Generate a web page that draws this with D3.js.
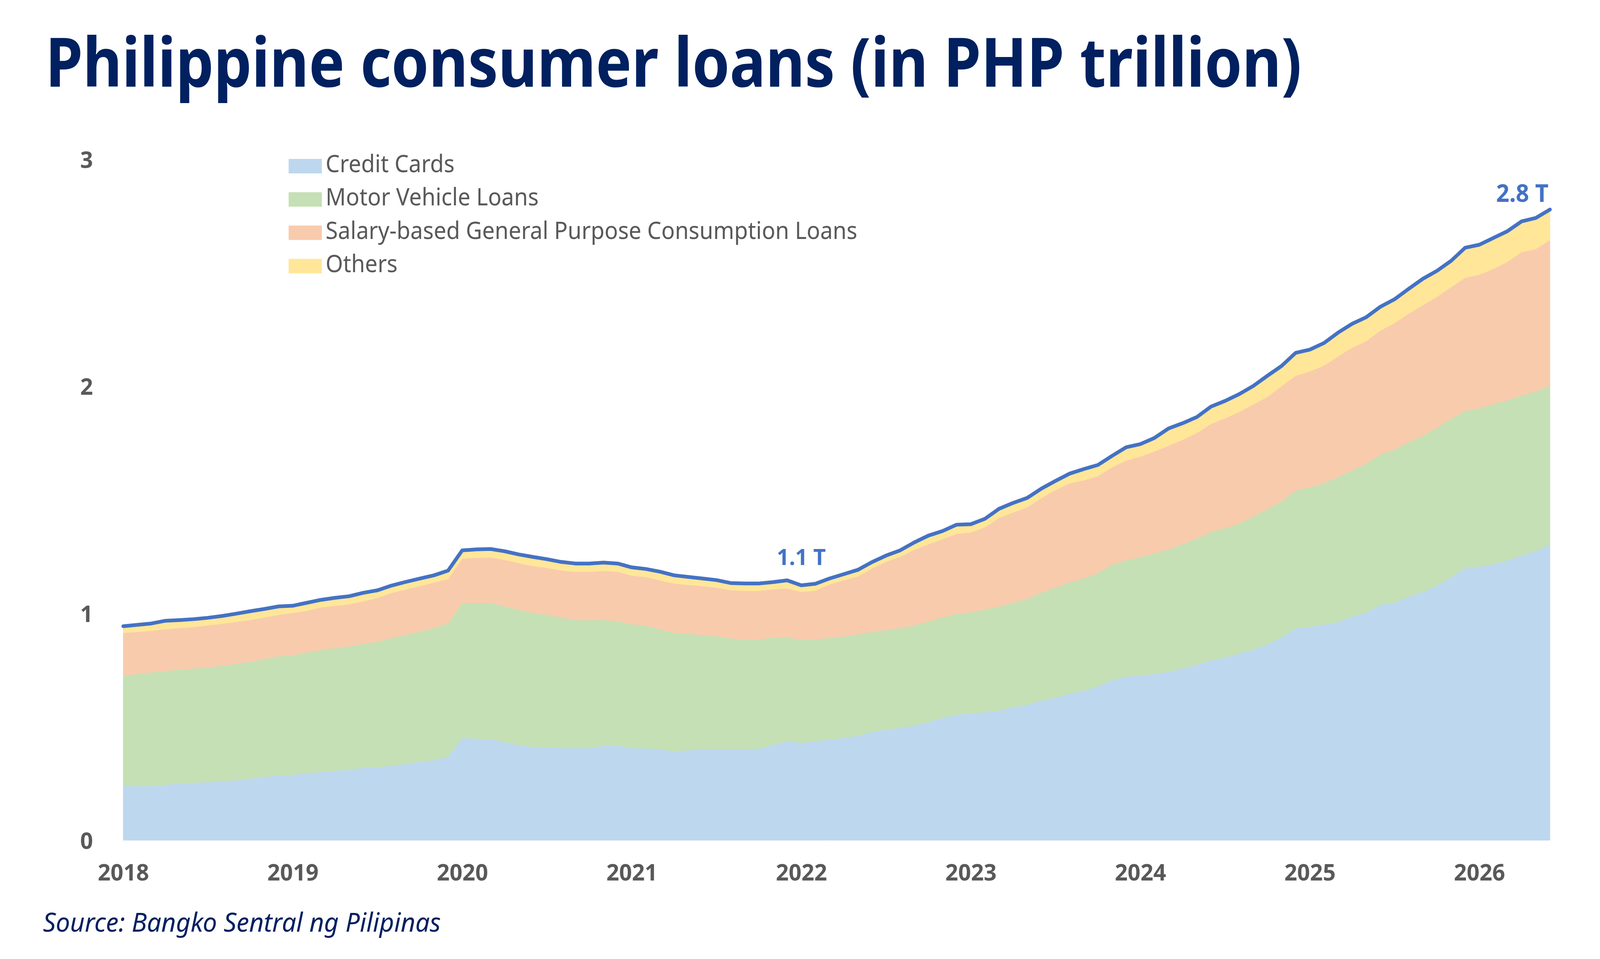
<!DOCTYPE html>
<html>
<head>
<meta charset="utf-8">
<script src="https://cdn.jsdelivr.net/npm/d3@7/dist/d3.min.js"></script>
<style>
  html, body { margin: 0; padding: 0; background: #ffffff; overflow: hidden; }
  svg { display: block; width: 100vw; height: 100vh; }
</style>
</head>
<body>
<svg id="chart" viewBox="0 0 4285 2456" preserveAspectRatio="none"></svg>
<script>
// ---------- DATA (PHP trillion, monthly Jan 2018 – Jun 2026) ----------
const startYear = 2018;
const startMonth = 0; // January
const monthCount = 102;
const seriesNames = ["Credit Cards", "Motor Vehicle Loans", "Salary-based General Purpose Consumption Loans", "Others"];
const yearLabels = ["2018", "2019", "2020", "2021", "2022", "2023", "2024", "2025", "2026"];
const yTickValues = [0, 1, 2, 3];

const creditCards = [
  0.239,0.239,0.239,0.245,0.250,0.254,0.256,0.259,0.265,0.272,0.280,0.287,
  0.288,0.297,0.301,0.307,0.311,0.320,0.322,0.328,0.337,0.346,0.354,0.369,
  0.451,0.448,0.446,0.433,0.420,0.412,0.410,0.407,0.406,0.407,0.417,0.418,
  0.406,0.406,0.400,0.393,0.397,0.400,0.402,0.402,0.402,0.403,0.421,0.438,
  0.428,0.438,0.444,0.451,0.461,0.477,0.488,0.496,0.506,0.521,0.539,0.554,
  0.558,0.565,0.571,0.587,0.597,0.616,0.628,0.646,0.659,0.679,0.706,0.722,
  0.726,0.734,0.743,0.757,0.773,0.793,0.805,0.823,0.840,0.864,0.894,0.934,
  0.941,0.950,0.962,0.986,1.004,1.038,1.047,1.074,1.094,1.122,1.159,1.199,
  1.206,1.216,1.234,1.254,1.275,1.301
];
const motorVehicle = [
  0.487,0.494,0.501,0.501,0.502,0.503,0.505,0.510,0.513,0.515,0.518,0.524,
  0.527,0.531,0.537,0.540,0.544,0.546,0.553,0.564,0.568,0.574,0.582,0.586,
  0.594,0.599,0.599,0.598,0.596,0.590,0.583,0.574,0.564,0.563,0.554,0.547,
  0.546,0.540,0.529,0.521,0.512,0.505,0.497,0.487,0.482,0.482,0.472,0.457,
  0.454,0.448,0.447,0.447,0.446,0.441,0.438,0.439,0.441,0.443,0.443,0.444,
  0.446,0.452,0.459,0.460,0.466,0.475,0.485,0.491,0.495,0.499,0.508,0.512,
  0.521,0.530,0.538,0.548,0.557,0.565,0.570,0.572,0.586,0.595,0.599,0.608,
  0.613,0.624,0.638,0.644,0.655,0.661,0.674,0.680,0.687,0.695,0.698,0.693,
  0.697,0.704,0.704,0.706,0.703,0.701
];
const salaryBased = [
  0.188,0.185,0.183,0.184,0.183,0.183,0.186,0.185,0.184,0.184,0.184,0.182,
  0.187,0.183,0.188,0.186,0.185,0.187,0.193,0.198,0.200,0.200,0.199,0.196,
  0.196,0.198,0.201,0.204,0.205,0.206,0.207,0.208,0.213,0.213,0.216,0.218,
  0.214,0.214,0.216,0.217,0.216,0.215,0.214,0.213,0.215,0.214,0.213,0.215,
  0.212,0.214,0.236,0.248,0.255,0.279,0.301,0.314,0.333,0.340,0.345,0.352,
  0.352,0.362,0.390,0.397,0.404,0.417,0.430,0.435,0.432,0.426,0.429,0.439,
  0.443,0.449,0.457,0.459,0.464,0.476,0.484,0.492,0.494,0.494,0.508,0.504,
  0.511,0.517,0.531,0.540,0.540,0.546,0.557,0.566,0.576,0.577,0.579,0.586,
  0.588,0.597,0.610,0.631,0.626,0.642
];
const others = [
  0.029,0.031,0.032,0.037,0.035,0.034,0.033,0.034,0.036,0.038,0.037,0.037,
  0.031,0.035,0.033,0.035,0.035,0.037,0.033,0.032,0.033,0.033,0.032,0.037,
  0.036,0.036,0.037,0.038,0.038,0.040,0.038,0.037,0.036,0.036,0.036,0.036,
  0.036,0.035,0.038,0.036,0.035,0.033,0.033,0.031,0.032,0.032,0.031,0.035,
  0.029,0.030,0.026,0.026,0.029,0.028,0.027,0.028,0.032,0.038,0.035,0.040,
  0.036,0.037,0.040,0.042,0.041,0.041,0.040,0.043,0.049,0.049,0.050,0.058,
  0.055,0.059,0.076,0.073,0.070,0.076,0.076,0.078,0.081,0.093,0.088,0.101,
  0.096,0.099,0.105,0.105,0.105,0.105,0.105,0.109,0.116,0.114,0.116,0.132,
  0.132,0.136,0.135,0.135,0.137,0.134
];
const seriesColors = ["#BDD7EE", "#C5E0B4", "#F8CBAD", "#FFE699"];
const totalColor = "#4472C4";
const annotations = [ { index: 48, text: "1.1 T" }, { index: 101, text: "2.8 T" } ];

// ---------- LAYOUT ----------
const svg = d3.select("#chart");
const W = 4285, H = 2456;
const plot = { left: 330, right: 4151, top: 407.5, bottom: 2152 };
const grey = "#595959";
const navy = "#002060";
const fontFamily = "'Noto Sans', 'Open Sans', sans-serif";

svg.append("rect").attr("width", W).attr("height", H).attr("fill", "#ffffff");

const rows = d3.range(monthCount).map(i => ({
  i,
  date: new Date(startYear, startMonth + i, 1),
  [seriesNames[0]]: creditCards[i],
  [seriesNames[1]]: motorVehicle[i],
  [seriesNames[2]]: salaryBased[i],
  [seriesNames[3]]: others[i]
}));

const x = d3.scaleLinear().domain([0, monthCount - 1]).range([plot.left, plot.right]);
const y = d3.scaleLinear().domain([0, 3]).range([plot.bottom, plot.top]);

const stack = d3.stack().keys(seriesNames);
const layers = stack(rows);

const area = d3.area()
  .x(d => x(d.data.i))
  .y0(d => y(d[0]))
  .y1(d => y(d[1]))
  .curve(d3.curveLinear);

svg.append("g").selectAll("path")
  .data(layers)
  .join("path")
  .attr("d", area)
  .attr("fill", (d, k) => seriesColors[k])
  .attr("stroke", (d, k) => seriesColors[k])
  .attr("stroke-width", 1);

const totals = rows.map(r => seriesNames.reduce((s, k) => s + r[k], 0));
const line = d3.line().x((d, i) => x(i)).y(d => y(d)).curve(d3.curveLinear);
svg.append("path")
  .datum(totals)
  .attr("d", line)
  .attr("fill", "none")
  .attr("stroke", totalColor)
  .attr("stroke-width", 9.5)
  .attr("stroke-linejoin", "round")
  .attr("stroke-linecap", "round");

// ---------- AXES ----------
const xAxis = d3.axisBottom(x)
  .tickValues(yearLabels.map((_, k) => k * 12))
  .tickFormat((d, k) => yearLabels[k])
  .tickSize(0)
  .tickPadding(0);
const gx = svg.append("g").attr("transform", `translate(0, ${plot.bottom})`).call(xAxis);
gx.select(".domain").remove();
gx.selectAll("text")
  .attr("dy", null)
  .attr("y", 103)
  .attr("font-family", fontFamily)
  .attr("font-weight", 700)
  .attr("font-size", 60)
  .attr("fill", grey);

const yAxis = d3.axisLeft(y).tickValues(yTickValues).tickFormat(d3.format("d")).tickSize(0).tickPadding(0);
const gy = svg.append("g").attr("transform", `translate(232, 0)`).call(yAxis);
gy.select(".domain").remove();
gy.selectAll("text")
  .attr("x", 0)
  .attr("dy", "0.36em")
  .attr("text-anchor", "middle")
  .attr("font-family", fontFamily)
  .attr("font-weight", 700)
  .attr("font-size", 60)
  .attr("fill", grey);

// ---------- ANNOTATIONS ----------
svg.append("text")
  .attr("x", x(annotations[0].index))
  .attr("y", y(totals[annotations[0].index]) - 52)
  .attr("text-anchor", "middle")
  .attr("font-family", fontFamily)
  .attr("font-weight", 700)
  .attr("font-size", 58)
  .attr("fill", totalColor)
  .text(annotations[0].text);

svg.append("text")
  .attr("x", x(annotations[1].index) - 4)
  .attr("y", y(totals[annotations[1].index]) - 20)
  .attr("text-anchor", "end")
  .attr("font-family", fontFamily)
  .attr("font-weight", 700)
  .attr("font-size", 62)
  .attr("fill", totalColor)
  .text(annotations[1].text);

// ---------- TITLE ----------
function fitText(sel, target) {
  const w = sel.node().getComputedTextLength();
  if (w > target) sel.attr("textLength", target).attr("lengthAdjust", "spacingAndGlyphs");
}
const title = svg.append("text")
  .attr("x", 122)
  .attr("y", 222)
  .attr("font-family", fontFamily)
  .attr("font-weight", 700)
  .attr("font-size", 174)
  .attr("fill", navy)
  .text("Philippine consumer loans (in PHP trillion)");
fitText(title, 3364);

// ---------- LEGEND ----------
const legend = svg.append("g").attr("transform", "translate(773, 407)");
const legendItems = legend.selectAll("g").data(seriesNames).join("g")
  .attr("transform", (d, k) => `translate(0, ${k * 85.3})`);
legendItems.append("rect")
  .attr("width", 89).attr("height", 37)
  .attr("fill", (d, k) => seriesColors[k]);
const legendTexts = legendItems.append("text")
  .attr("x", 99)
  .attr("y", 34)
  .attr("font-family", fontFamily)
  .attr("font-size", 62)
  .attr("fill", grey)
  .text(d => d);
const longest = legendTexts.nodes()[2].getComputedTextLength();
const ratio = Math.min(1, 1424 / longest);
legendTexts.each(function() {
  const w = this.getComputedTextLength();
  if (ratio < 1) d3.select(this).attr("textLength", w * ratio).attr("lengthAdjust", "spacingAndGlyphs");
});

// ---------- SOURCE ----------
const source = svg.append("text")
  .attr("x", 115)
  .attr("y", 2386)
  .attr("font-family", fontFamily)
  .attr("font-style", "italic")
  .attr("font-size", 68)
  .attr("fill", navy)
  .text("Source: Bangko Sentral ng Pilipinas");
fitText(source, 1071);
</script>
</body>
</html>
